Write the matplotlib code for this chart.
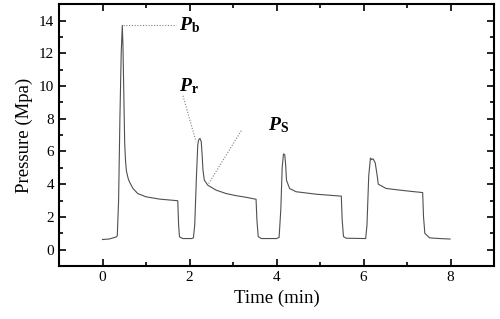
import numpy as np
import matplotlib
matplotlib.use('Agg')
import matplotlib.pyplot as plt
from matplotlib.ticker import MultipleLocator

plt.rcParams['font.family'] = ['Liberation Serif', 'DejaVu Serif']
plt.rcParams['mathtext.fontset'] = 'custom'
plt.rcParams['mathtext.rm'] = 'Liberation Serif'
plt.rcParams['mathtext.it'] = 'Liberation Serif:italic'
plt.rcParams['mathtext.bf'] = 'Liberation Serif:bold'
plt.rcParams['mathtext.bfit'] = 'Liberation Serif:italic:bold'

# pressure trace (time in min, pressure in MPa)
time = [0.0, 0.15, 0.31, 0.34, 0.37, 0.40, 0.43, 0.455, 0.47, 0.49, 0.51, 0.53, 0.55,
        0.59, 0.62, 0.70, 0.81, 1.00, 1.31, 1.73, 1.75, 1.77, 1.85, 2.05,
        2.09, 2.12, 2.16, 2.19, 2.21, 2.24, 2.27, 2.29, 2.31, 2.34, 2.42, 2.61, 2.84,
        3.07, 3.30, 3.53, 3.55, 3.58, 3.65, 4.00, 4.06, 4.10, 4.13, 4.16, 4.19, 4.21,
        4.23, 4.30, 4.45, 4.91, 5.20, 5.49, 5.51, 5.54, 5.60, 6.05, 6.08, 6.12, 6.16,
        6.19, 6.22, 6.27, 6.31, 6.34, 6.52, 6.83, 7.10, 7.36, 7.38, 7.41, 7.52, 7.75, 7.99]
pressure = [0.62, 0.65, 0.77, 0.85, 3.0, 8.0, 12.0, 13.7, 12.5, 9.5, 6.5, 5.4, 4.8,
            4.35, 4.14, 3.74, 3.43, 3.23, 3.09, 2.99, 1.5, 0.78, 0.68, 0.68,
            0.72, 1.5, 4.5, 6.4, 6.7, 6.8, 6.6, 5.8, 4.85, 4.25, 3.94, 3.64, 3.43,
            3.30, 3.2, 3.08, 1.8, 0.8, 0.68, 0.68, 0.75, 2.5, 5.0, 5.85, 5.8, 5.2,
            4.24, 3.74, 3.54, 3.39, 3.33, 3.27, 1.8, 0.8, 0.70, 0.68, 1.5, 4.5, 5.6,
            5.5, 5.55, 5.3, 4.6, 4.0, 3.74, 3.64, 3.56, 3.49, 2.0, 1.0, 0.72, 0.68, 0.65]

# annotation leader lines: (start, end)
pb_line = ([0.48, 1.68], [13.7, 13.7])
pr_line = ([1.85, 2.15], [9.4, 6.6])
ps_line = ([3.19, 2.44], [7.27, 4.04])

fig = plt.figure(figsize=(5, 3.19), dpi=100)
ax = fig.add_axes([0.118, 0.166, 0.870, 0.821])

ax.plot(time, pressure, color='#505050', lw=0.8)

for lx, ly in (pb_line, pr_line, ps_line):
    ax.plot(lx, ly, color='#808080', lw=0.8, ls=(0, (1, 1.5)))

ax.text(1.75, 13.7, r'$\mathbfit{P}_{\mathbf{b}}$', fontsize=14, va='center', ha='left')
ax.text(1.75, 10.0, r'$\mathbfit{P}_{\mathbf{r}}$', fontsize=14, va='center', ha='left')
ax.text(3.8, 7.6, r'$\mathbfit{P}_{\mathbf{S}}$', fontsize=14, va='center', ha='left')

ax.set_xlim(-1, 9)
ax.set_ylim(-1, 15)
ax.xaxis.set_major_locator(MultipleLocator(2))
ax.xaxis.set_minor_locator(MultipleLocator(1))
ax.yaxis.set_major_locator(MultipleLocator(2))
ax.yaxis.set_minor_locator(MultipleLocator(1))
ax.tick_params(which='both', direction='in', top=True, right=True, width=1.2, labelsize=11)
ax.tick_params(which='major', length=5)
ax.tick_params(which='minor', length=3)
for s in ax.spines.values():
    s.set_linewidth(1.5)

ax.set_xlabel('Time (min)', fontsize=13.5, labelpad=4)
ax.set_ylabel('Pressure (Mpa)', fontsize=13.5, labelpad=4)

fig.savefig('out.png', dpi=100)
